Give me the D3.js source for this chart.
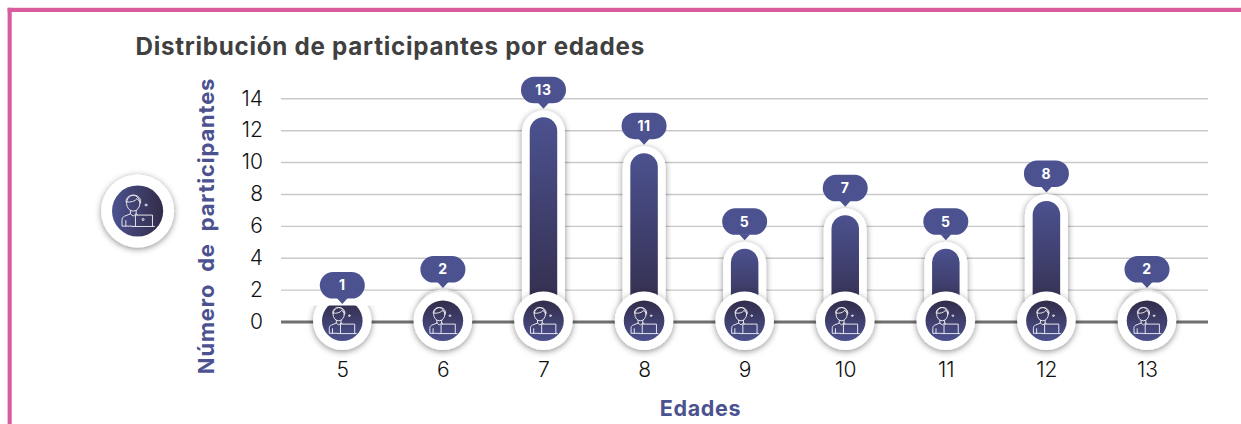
<!DOCTYPE html>
<html lang="es">
<head>
<meta charset="utf-8">
<title>Distribución de participantes por edades</title>
<script src="https://cdn.jsdelivr.net/npm/d3@7"></script>
<style>
html,body{margin:0;padding:0;background:#fff;overflow:hidden}
svg{display:block}
text{font-family:Inter,"Open Sans",sans-serif}
</style>
</head>
<body>
<div id="chart"></div>
<script>
const title = "Distribución de participantes por edades";
const yTitle = "Número  de  participantes";
const xTitle = "Edades";
const ages = ["5","6","7","8","9","10","11","12","13"];
const counts = [1,2,13,11,5,7,5,8,2];
// Height each drawn bar actually reaches on the value axis.
const barReach = [1,2,13.25,11,5,7.1,5,8,2];
const yTicks = [0,2,4,6,8,10,12,14];

const W = 1241, H = 424;
const BLUE = "#4c5290", DARK = "#322c49";
const R_OUT = 29.3, R_IN = 20.3, PILL_W = 43, BAR_W = 27.5, BORDER = 7;

const svg = d3.select("#chart").append("svg").attr("width",W).attr("height",H);
const defs = svg.append("defs");

const f = defs.append("filter").attr("id","sh").attr("x","-40%").attr("y","-40%").attr("width","180%").attr("height","180%");
f.append("feDropShadow").attr("dx",0).attr("dy",1.5).attr("stdDeviation",3).attr("flood-color","#000").attr("flood-opacity",0.45);

function grad(id,x2,y2,a,b){
  const g = defs.append("linearGradient").attr("id",id).attr("x1",0).attr("y1",0).attr("x2",x2).attr("y2",y2);
  g.append("stop").attr("offset",0).attr("stop-color",a);
  g.append("stop").attr("offset",1).attr("stop-color",b);
}
grad("gBar",0,1,BLUE,DARK);
grad("gCirc",0,1,DARK,BLUE);
grad("gSide",1,0,BLUE,DARK);

// Frame
svg.append("rect").attr("x",7.6).attr("y",7.8).attr("width",W).attr("height",4.2).attr("fill","#d95c9f");
svg.append("rect").attr("x",7.6).attr("y",7.8).attr("width",4.1).attr("height",H).attr("fill","#d95c9f");

// Scales
const y = d3.scaleLinear().domain([0,14]).range([321.5,98.3]);
const x = d3.scalePoint().domain(ages).range([342.3,1147]);
const gridL = 281, gridR = 1208;

// Title
svg.append("text").attr("x",135.5).attr("y",55).attr("fill","#404040")
  .attr("font-size",24.2).attr("font-weight",700).attr("letter-spacing",0.72).text(title);

// Y axis with grid
const yAxis = svg.append("g").attr("transform",`translate(${gridR},0)`)
  .call(d3.axisLeft(y).tickValues(yTicks).tickSize(gridR-gridL).tickPadding(18));
yAxis.select(".domain").remove();
yAxis.selectAll("line").attr("stroke",d=>d===0?"#6f6f6f":"#c9c9c9").attr("stroke-width",d=>d===0?3:1.4);
yAxis.selectAll("text").attr("fill","#111").attr("font-size",21).attr("font-weight",300)
  .style("font-family","Inter,sans-serif");

// Axis titles
svg.append("text").attr("transform","translate(214,226) rotate(-90)").attr("text-anchor","middle")
  .attr("fill",BLUE).attr("font-size",22).attr("font-weight",700).attr("letter-spacing",0.8)
  .style("white-space","pre").text(yTitle);
svg.append("text").attr("x",700.5).attr("y",416).attr("text-anchor","middle")
  .attr("fill",BLUE).attr("font-size",21.5).attr("font-weight",700).attr("letter-spacing",0.7).text(xTitle);

// X axis labels
const xAxis = svg.append("g").attr("transform","translate(0,365.5)")
  .call(d3.axisBottom(x).tickSize(0).tickPadding(0));
xAxis.select(".domain").remove();
xAxis.selectAll("text").attr("fill","#111").attr("font-size",21).attr("font-weight",300).attr("dy","0.55em");

// Person glyph, unit is one pixel at scale 1, origin is the circle centre
function person(g,s){
  const p = g.append("g").attr("transform",`scale(${s})`).attr("fill","none")
    .attr("stroke","#fff").attr("stroke-width",1/s*0.95).attr("stroke-linejoin","round").attr("stroke-linecap","round").attr("opacity",0.9);
  p.append("ellipse").attr("cx",-3.6).attr("cy",-6.5).attr("rx",5.6).attr("ry",6.6);
  p.append("path").attr("d","M-9.6 -7.6C-10.2 -15 3 -15.6 2.6 -7.4M-9 -7.6C-6 -7 -2 -8 -0.5 -10.4C0 -9 1.5 -8 2.4 -7.6");
  p.append("path").attr("d","M-6 -0.5V2.4L-3.6 4.2L-1.2 2.4V-0.5");
  p.append("path").attr("d","M-6 2.4L-11 4.4C-12.4 5 -13 6 -13 7.6V12.6H-4.6M-1.2 2.4L-0.2 2.8M-9.8 8V12.6");
  p.append("path").attr("d","M-1.8 12.6V3.4H12.4V12.6");
  p.append("path").attr("d","M-4.4 12.9H14");
  p.append("circle").attr("cx",7).attr("cy",-5).attr("r",0.8);
}

// Side medallion
const side = svg.append("g").attr("transform","translate(137.6,211)");
side.append("circle").attr("r",36.5).attr("fill","#fff").attr("filter","url(#sh)");
side.append("circle").attr("r",25.6).attr("fill","url(#gSide)");
person(side,1.2);
side.append("circle").attr("cx",5.5).attr("cy",8.5).attr("r",1).attr("fill","none").attr("stroke","#fff").attr("stroke-width",0.9);

// Bars
const data = ages.map((a,i)=>({age:a,count:counts[i],reach:barReach[i]}));
const cy = 320.7;
const items = svg.selectAll("g.item").data(data).join("g").attr("class","item");

items.each(function(d,i){
  const g = d3.select(this), cx = x(d.age), top = y(d.reach);
  const circleTop = cy - R_OUT;
  const clipped = top > circleTop;
  const body = g.append("g");
  if(clipped){
    const id = "clip"+i;
    defs.append("clipPath").attr("id",id).append("rect")
      .attr("x",cx-60).attr("y",top).attr("width",120).attr("height",H-top);
    body.attr("clip-path",`url(#${id})`);
  } else if(top < circleTop - 1){
    body.append("rect").attr("x",cx-PILL_W/2).attr("y",top).attr("width",PILL_W).attr("height",cy-top)
      .attr("rx",PILL_W/2).attr("fill","#fff").attr("filter","url(#sh)");
    body.append("rect").attr("x",cx-BAR_W/2).attr("y",top+BORDER).attr("width",BAR_W).attr("height",cy-top-BORDER)
      .attr("rx",BAR_W/2).attr("fill","url(#gBar)");
  }
  body.append("circle").attr("cx",cx).attr("cy",cy).attr("r",R_OUT).attr("fill","#fff").attr("filter","url(#sh)");
  const c = body.append("g").attr("transform",`translate(${cx},${cy})`);
  c.append("circle").attr("r",R_IN).attr("fill","url(#gCirc)");
  person(c,1);

  // Callout
  const bw = 45, bh = 26.5, tipBottom = top - 1.5, bBottom = top - 7;
  const b = g.append("g");
  b.append("path").attr("d",d3.line()([[cx-5.5,bBottom-0.5],[cx+5.5,bBottom-0.5],[cx,tipBottom]])).attr("fill",BLUE);
  b.append("rect").attr("x",cx-bw/2).attr("y",bBottom-bh).attr("width",bw).attr("height",bh)
    .attr("rx",13.2).attr("fill",BLUE);
  b.append("text").attr("x",cx).attr("y",bBottom-bh/2).attr("dy","0.36em").attr("text-anchor","middle")
    .attr("fill","#fff").attr("font-size",14).attr("font-weight",700).attr("letter-spacing",0.6).text(d.count);
});
</script>
</body>
</html>
